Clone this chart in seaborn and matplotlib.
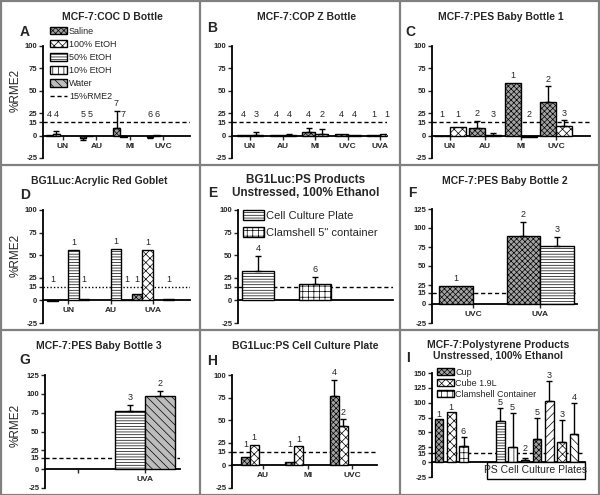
import numpy as np
import pandas as pd
import matplotlib
matplotlib.use('Agg')
import matplotlib.pyplot as plt
from matplotlib.patches import Patch, Rectangle
from matplotlib.lines import Line2D
import seaborn as sns

sns.set_style('white')
plt.rcParams['font.family'] = ['Liberation Sans Narrow', 'Liberation Sans', 'DejaVu Sans']
plt.rcParams['hatch.linewidth'] = 0.5

nan = np.nan
W, H = 600, 495

# ---- data ----
levels = ['Saline', '100% EtOH', '50% EtOH', '10% EtOH', 'Water']

a_cats = ['UN', 'AU', 'MI', 'UVC']
a_saline = [1, -3, 8, -2]
a_saline_err = [0, 2, 20, 1]
a_saline_n = [4, 5, 7, 6]
a_etoh = [2, -1, -2, 0.5]
a_etoh_err = [3, 0, 0, 0]
a_etoh_n = [4, 5, 7, 6]

b_cats = ['UN', 'AU', 'MI', 'UVC', 'UVA']
b_saline = [0.5, 0.5, 4, 1.5, 0.5]
b_saline_err = [0, 0, 4, 0, 0]
b_saline_n = [4, 4, 4, 4, 1]
b_etoh = [1, 1, 1.5, 0.5, 2]
b_etoh_err = [3, 1, 6, 0, 0]
b_etoh_n = [3, 4, 2, 4, 1]

c_cats = ['UN', 'AU', 'MI', 'UVC']
c_saline = [0, 9, 59, 37]
c_saline_err = [0, 7, 0, 18]
c_saline_n = [1, 2, 1, 2]
c_etoh = [10, 1, -2, 11]
c_etoh_err = [0, 2, 0, 6]
c_etoh_n = [1, 3, 2, 3]

d_cats = ['UN', 'AU', 'UVA']
d_saline = [-1, nan, 7]
d_etoh100 = [nan, nan, 56]
d_etoh50 = [56, 57, nan]
d_etoh10 = [1, 0.3, 1]
d_n = [1, 1, 1]

e_cats = ['Cell Culture Plate', 'Clamshell 5" container']
e_vals = [32, 18]
e_errs = [17, 8]
e_ns = [4, 6]

f_cats = ['UVC', 'UVA']
f_saline = [24, 90]
f_saline_err = [0, 18]
f_saline_n = [1, 2]
f_etoh50 = [nan, 76]
f_etoh50_err = [0, 12]
f_etoh50_n = [None, 3]

g_cats = ['', 'UVA']
g_etoh50 = [nan, 77]
g_etoh50_err = [0, 8]
g_etoh50_n = [None, 3]
g_water = [nan, 97]
g_water_err = [0, 7]
g_water_n = [None, 2]

h_cats = ['AU', 'MI', 'UVC']
h_saline = [9, 4, 77]
h_saline_err = [0, 0, 18]
h_saline_n = [1, 1, 4]
h_etoh = [23, 21, 44]
h_etoh_err = [0, 0, 7]
h_etoh_n = [1, 1, 2]

i_slots = ['Cup', 'Cube 1.9L', 'Clamshell Container', 'gap1', 'gap2',
           'p1', 'p2', 'p3', 'p4', 'p5', 'p6', 'p7']
i_vals = [72, 84, 27, nan, nan, 69, 25, 3, 39, 103, 34, 47]
i_errs = [0, 0, 15, 0, 0, 22, 58, 4, 35, 34, 37, 53]
i_ns = [1, 1, 6, None, None, 5, 5, 2, 5, 3, 3, 4]

# ---- looks ----
STYLE = {
    'Saline': ('#a3a3a3', 'xxxxxx'),
    '100% EtOH': ('white', 'xxxx'),
    '50% EtOH': ('white', '------'),
    '10% EtOH': ('white', '|||'),
    'Water': ('#bdbdbd', '\\\\\\\\'),
}
i_faces = ['#a3a3a3', 'white', 'white', 'white', 'white',
           'white', 'white', '#707070', '#a3a3a3', 'white', 'white', 'white']
i_hatches = ['xxxxxx', 'xxxx', '+++', '', '',
             '------', '|||', 'xxxx', 'xxxxxx', '////', 'xxxx', '\\\\\\\\']

fig = plt.figure(figsize=(W / 100, H / 100), dpi=100)


def panel(left, right, top, bottom):
    ax = fig.add_axes([left / W, 1 - bottom / H, (right - left) / W, (bottom - top) / H])
    ax.set_facecolor('none')
    return ax


def finish(ax, ylim, yticks, xlim, xlabels=True, dash=(0, (3, 2))):
    ax.set_ylim(*ylim)
    ax.set_xlim(*xlim)
    ax.set_yticks(yticks)
    ax.set_yticklabels([str(t) for t in yticks], fontsize=5.5, fontweight='bold')
    for s in ['top', 'right']:
        ax.spines[s].set_visible(False)
    ax.spines['bottom'].set_position(('data', 0))
    for s in ['left', 'bottom']:
        ax.spines[s].set_linewidth(1.3)
        ax.spines[s].set_color('black')
    ax.tick_params(axis='y', direction='out', length=3, width=1, pad=1, left=True)
    if xlabels:
        ax.tick_params(axis='x', direction='out', length=3, width=1, pad=2, bottom=True)
        for lab in ax.get_xticklabels():
            lab.set_fontsize(6)
            lab.set_fontweight('bold')
    else:
        ax.set_xticks([])
    ax.set_xlabel('')
    ax.set_ylabel('')
    ax.axhline(15, color='black', lw=1, ls=dash, zorder=1)


def mark(ax, x, val, err, n, off=2):
    if err and err > 0:
        yerr = [[0], [err]] if val >= 0 else [[err], [0]]
        ax.errorbar(x, val, yerr=yerr, fmt='none', ecolor='black', elinewidth=1,
                    capsize=2.5, capthick=1, zorder=4)
    top = max(val + err if val >= 0 else 0, 15)
    ax.annotate(str(int(n)), (x, top), xytext=(0, off), textcoords='offset points',
                ha='center', va='bottom', fontsize=6.5)


def bars(ax, cats, series, hue_order, width):
    rows = []
    for lev, (vals, errs, ns) in series.items():
        for c, v, e, n in zip(cats, vals, errs, ns):
            rows.append({'cat': c, 'grp': lev, 'val': v, 'err': e, 'n': n})
    df = pd.DataFrame(rows)
    sns.barplot(data=df, x='cat', y='val', hue='grp', order=cats, hue_order=hue_order,
                palette={l: STYLE[l][0] for l in hue_order}, saturation=1,
                errorbar=None, width=width, edgecolor='black', linewidth=1,
                legend=False, ax=ax, zorder=3)
    for lev, cont in zip(hue_order, ax.containers):
        sub = df[(df.grp == lev) & df.val.notna()]
        for patch, (_, r) in zip(cont.patches, sub.iterrows()):
            patch.set_hatch(STYLE[lev][1])
            mark(ax, patch.get_x() + patch.get_width() / 2, r.val, r.err, r.n)


def ftext(x, y, s, **kw):
    fig.text(x / W, 1 - y / H, s, ha='center', va='center', **kw)


Y100 = [-25, 0, 15, 25, 50, 75, 100]
Y125 = Y100 + [125]
Y150 = Y125 + [150]

# A
ax = panel(43, 190, 46, 158)
bars(ax, a_cats, {'Saline': (a_saline, a_saline_err, a_saline_n),
                  '100% EtOH': (a_etoh, a_etoh_err, a_etoh_n)}, levels, 1.0)
finish(ax, (-25, 100), Y100, (-0.6, 3.8))
handles = [Patch(facecolor=STYLE[l][0], hatch=STYLE[l][1], edgecolor='black', label=l)
           for l in levels]
handles.append(Line2D([], [], color='black', lw=1, ls=(0, (3, 2)), label='15%RME2'))
ax.legend(handles=handles, loc='upper left', bbox_to_anchor=(0.01, 1.22), frameon=False,
          fontsize=6.5, handlelength=1.9, handleheight=0.9, labelspacing=0.45,
          handletextpad=0.2, borderpad=0.1)

# B
ax = panel(232, 387, 46, 158)
bars(ax, b_cats, {'Saline': (b_saline, b_saline_err, b_saline_n),
                  '100% EtOH': (b_etoh, b_etoh_err, b_etoh_n)},
     ['Saline', '100% EtOH'], 0.8)
finish(ax, (-25, 100), Y100, (-0.55, 4.2))

# C
ax = panel(432, 590, 46, 158)
bars(ax, c_cats, {'Saline': (c_saline, c_saline_err, c_saline_n),
                  '100% EtOH': (c_etoh, c_etoh_err, c_etoh_n)},
     ['Saline', '100% EtOH'], 0.9)
finish(ax, (-25, 100), Y100, (-0.5, 3.95))

# D
ax = panel(43, 190, 210, 323)
zeros = [0, 0, 0]
bars(ax, d_cats, {'Saline': (d_saline, zeros, d_n),
                  '100% EtOH': (d_etoh100, zeros, d_n),
                  '50% EtOH': (d_etoh50, zeros, d_n),
                  '10% EtOH': (d_etoh10, zeros, d_n)},
     ['Saline', '100% EtOH', '50% EtOH', '10% EtOH'], 1.0)
finish(ax, (-25, 100), Y100, (-0.6, 2.88), dash=(0, (1, 1.5)))

# E
ax = panel(238, 393, 210, 323)
e_df = pd.DataFrame({'cat': e_cats, 'val': e_vals})
sns.barplot(data=e_df, x='cat', y='val', order=e_cats, color='white', saturation=1,
            errorbar=None, width=0.55, edgecolor='black', linewidth=1, ax=ax, zorder=3)
e_hatch = ['------', '+++']
for patch, h, v, e, n in zip(ax.containers[0].patches, e_hatch, e_vals, e_errs, e_ns):
    patch.set_hatch(h)
    mark(ax, patch.get_x() + patch.get_width() / 2, v, e, n)
finish(ax, (-25, 100), Y100, (-0.35, 2.37), xlabels=False)
ax.legend(handles=[Patch(facecolor='white', hatch=h, edgecolor='black', label=c)
                   for c, h in zip(e_cats, e_hatch)],
          loc='upper left', bbox_to_anchor=(-0.01, 1.06), frameon=False, fontsize=8,
          handlelength=1.9, handleheight=1.0, labelspacing=0.55, handletextpad=0.2,
          borderpad=0.1)

# F
ax = panel(432, 577, 209, 323)
bars(ax, f_cats, {'Saline': (f_saline, f_saline_err, f_saline_n),
                  '50% EtOH': (f_etoh50, f_etoh50_err, f_etoh50_n)},
     ['Saline', '50% EtOH'], 1.0)
finish(ax, (-25, 125), Y125, (-0.61, 1.55))

# G
ax = panel(45, 180, 375, 488)
bars(ax, g_cats, {'50% EtOH': (g_etoh50, g_etoh50_err, g_etoh50_n),
                  'Water': (g_water, g_water_err, g_water_n)},
     ['50% EtOH', 'Water'], 0.9)
finish(ax, (-25, 125), Y125, (-0.49, 1.52))

# H
ax = panel(232, 377, 375, 488)
bars(ax, h_cats, {'Saline': (h_saline, h_saline_err, h_saline_n),
                  '100% EtOH': (h_etoh, h_etoh_err, h_etoh_n)}, levels, 1.0)
finish(ax, (-25, 100), Y100, (-0.7, 2.56))

# I
ax = panel(432, 585, 373, 477)
i_df = pd.DataFrame({'slot': i_slots, 'val': i_vals, 'err': i_errs, 'n': i_ns})
sns.barplot(data=i_df, x='slot', y='val', order=i_slots, color='white', saturation=1,
            errorbar=None, width=0.7, edgecolor='black', linewidth=1, ax=ax, zorder=3)
drawn = i_df[i_df.val.notna()]
for patch, (idx, r) in zip(ax.containers[0].patches, drawn.iterrows()):
    patch.set_facecolor(i_faces[idx])
    patch.set_hatch(i_hatches[idx])
    mark(ax, patch.get_x() + patch.get_width() / 2, r.val, r.err, r.n, off=0.5)
finish(ax, (-25, 150), Y150, (-0.57, 11.9), xlabels=False)
ax.legend(handles=[Patch(facecolor=i_faces[k], hatch=i_hatches[k], edgecolor='black',
                         label=i_slots[k]) for k in range(3)],
          loc='upper left', bbox_to_anchor=(0.0, 1.1), frameon=False, fontsize=6.5,
          handlelength=1.8, handleheight=0.85, labelspacing=0.22, handletextpad=0.2,
          borderpad=0.1)
ax.add_patch(Rectangle((3.95, -28), 7.95, 28, facecolor='white', edgecolor='black',
                       lw=1, clip_on=False, zorder=5))
ax.text(7.9, -14, 'PS Cell Culture Plates', ha='center', va='center', fontsize=7.5,
        zorder=6)

# titles, letters, y labels
for x, y, s in [(112, 17, 'MCF-7:COC D Bottle'), (307, 17, 'MCF-7:COP Z Bottle'),
                (501, 17, 'MCF-7:PES Baby Bottle 1'), (99, 181, 'BG1Luc:Acrylic Red Goblet'),
                (505, 181, 'MCF-7:PES Baby Bottle 2'), (99, 346, 'MCF-7:PES Baby Bottle 3'),
                (305, 346, 'BG1Luc:PS Cell Culture Plate'),
                (498, 345, 'MCF-7:Polystyrene Products'), (498, 356, 'Unstressed, 100% Ethanol')]:
    ftext(x, y, s, fontsize=7.5, fontweight='bold')
ftext(306, 180, 'BG1Luc:PS Products', fontsize=8.5, fontweight='bold')
ftext(306, 193, 'Unstressed, 100% Ethanol', fontsize=8.5, fontweight='bold')

for x, y, s in [(25, 32, 'A'), (212, 28, 'B'), (410, 32, 'C'), (25, 195, 'D'),
                (213, 193, 'E'), (412, 193, 'F'), (25, 360, 'G'), (212, 361, 'H'),
                (408, 358, 'I')]:
    ftext(x, y, s, fontsize=10, fontweight='bold')

for y in [90, 255, 425]:
    ftext(16, y, '%RME2', fontsize=8.5, rotation=90)

# panel frames
for x in [199.5, 399.5]:
    fig.add_artist(Line2D([x / W, x / W], [0, 1], color='#808080', lw=1.6))
for y in [164.5, 329.5]:
    fig.add_artist(Line2D([0, 1], [1 - y / H, 1 - y / H], color='#808080', lw=1.6))
fig.add_artist(Rectangle((0.001, 0.001), 0.997, 0.997, fill=False, edgecolor='#808080',
                         lw=1.6))

fig.savefig('out.png', dpi=100)
